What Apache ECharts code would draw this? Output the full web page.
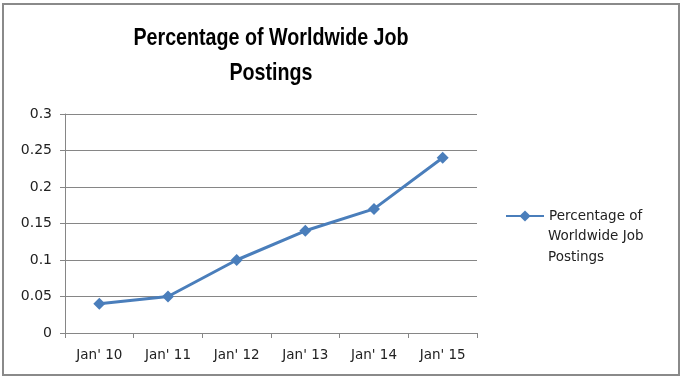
<!DOCTYPE html>
<html>
<head>
<meta charset="utf-8">
<script src="https://cdn.jsdelivr.net/npm/echarts@6/dist/echarts.min.js"></script>
<style>html,body{margin:0;padding:0;background:#fff}#c{width:684px;height:381px}</style>
</head>
<body>
<div id="c"></div>
<script>
const categories = ["Jan' 10", "Jan' 11", "Jan' 12", "Jan' 13", "Jan' 14", "Jan' 15"];
const seriesName = "Percentage of Worldwide Job Postings";
const values = [0.04, 0.05, 0.10, 0.14, 0.17, 0.24];
const yTicks = { min: 0, max: 0.3, interval: 0.05 };
const titleText = 'Percentage of Worldwide Job\nPostings';

const chart = echarts.init(document.getElementById('c'), null, { renderer: 'canvas' });
const axisGray = '#868686';
chart.setOption({
  backgroundColor: '#ffffff',
  animation: false,
  grid: { left: 65, top: 114, width: 412, height: 219 },
  legend: {
    left: 500, top: 204, itemWidth: 38, itemHeight: 14, itemGap: 5,
    data: [seriesName],
    formatter: function () { return 'Percentage of'; },
    textStyle: { fontFamily: "'DejaVu Sans', sans-serif", fontSize: 13.5, color: '#222' }
  },
  xAxis: {
    type: 'category', data: categories, boundaryGap: true,
    axisLine: { lineStyle: { color: axisGray, width: 1 } },
    axisTick: { show: true, length: 5, alignWithLabel: false, lineStyle: { color: axisGray } },
    axisLabel: { fontFamily: "'DejaVu Sans', sans-serif", fontSize: 13.5, color: '#222', margin: 15 },
    splitLine: { show: false }
  },
  yAxis: {
    type: 'value', min: yTicks.min, max: yTicks.max, interval: yTicks.interval,
    axisLine: { show: true, lineStyle: { color: axisGray, width: 1 } },
    axisTick: { show: true, length: 5, lineStyle: { color: axisGray } },
    axisLabel: { fontFamily: "'DejaVu Sans', sans-serif", fontSize: 14, color: '#222', margin: 13, formatter: function (v) { return String(+v.toFixed(2)); } },
    splitLine: { show: true, lineStyle: { color: axisGray, width: 1 } }
  },
  series: [{
    name: seriesName, type: 'line', data: values,
    symbol: 'diamond', symbolSize: 12,
    itemStyle: { color: '#4a7ebb' },
    lineStyle: { color: '#4a7ebb', width: 3 }
  }],
  graphic: [
    { type: 'rect', shape: { x: 3, y: 4, width: 676, height: 371 }, style: { fill: 'none', stroke: '#8a8a8a', lineWidth: 2 } },
    { type: 'text', x: 271, y: 56, scaleX: 0.82, style: { text: titleText, font: "bold 24px 'Liberation Sans', sans-serif", fill: '#000', align: 'center', verticalAlign: 'middle', lineHeight: 35 } },
    { type: 'text', left: 548, top: 226, style: { text: 'Worldwide Job\nPostings', font: "13.5px 'DejaVu Sans', sans-serif", fill: '#222', lineHeight: 21 } }
  ]
});
</script>
</body>
</html>
